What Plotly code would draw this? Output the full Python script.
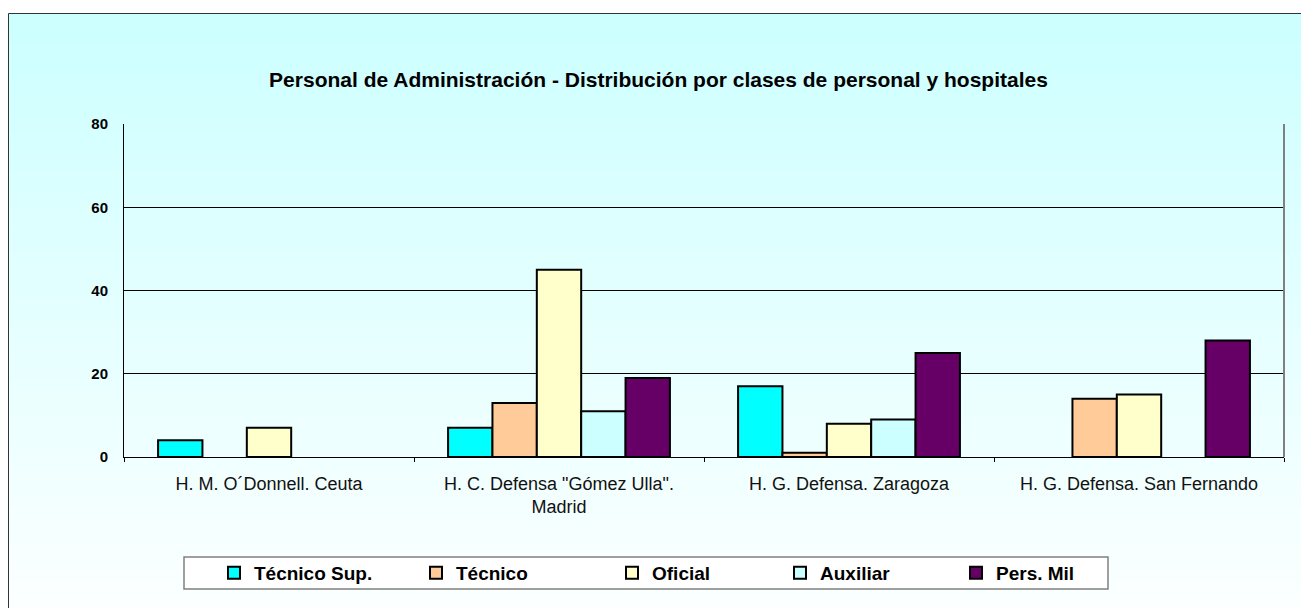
import plotly.graph_objects as go

hospitales = [
    "H. M. O´Donnell. Ceuta",
    "H. C. Defensa \"Gómez Ulla\".<br>Madrid",
    "H. G. Defensa. Zaragoza",
    "H. G. Defensa. San Fernando",
]
series_names = ["Técnico Sup.", "Técnico", "Oficial", "Auxiliar", "Pers. Mil"]
tecnico_sup = [4, 7, 17, 0]
tecnico = [0, 13, 1, 14]
oficial = [7, 45, 8, 15]
auxiliar = [0, 11, 9, 0]
pers_mil = [0, 19, 25, 28]
colors = ["#00FFFF", "#FFCC99", "#FFFFCC", "#CCFFFF", "#660066"]
y_ticks = [0, 20, 40, 60, 80]

FONT = "Arial, 'Liberation Sans', sans-serif"
OFF = 8  # browser body margin
W, H = 1309 - OFF, 608 - OFF
L, R, T, B = 124 - OFF, 1284 - OFF, 124 - OFF, 457 - OFF
pw, ph = R - L, B - T

def px(x):  # page x -> paper
    return (x - OFF - L) / pw

def py(y):  # page y -> paper
    return (B - (y - OFF)) / ph

fig = go.Figure()
legend_centers = [239, 441, 637, 805, 981]
for i, (name, vals, col) in enumerate(zip(series_names, [tecnico_sup, tecnico, oficial, auxiliar, pers_mil], colors)):
    fig.add_trace(go.Bar(
        name=name, x=hospitales, y=[v if v else None for v in vals],
        marker=dict(color=col, line=dict(color="black", width=2)),
        legend="legend" if i == 0 else f"legend{i + 1}",
    ))

shapes = []
n = 80
top, bot = 13, 612
for i in range(n):
    y0 = top + (bot - top) * i / n
    y1 = top + (bot - top) * (i + 1) / n + 0.5
    t = (i + 0.5) / n
    r = int(round(204 + (252 - 204) * t))
    shapes.append(dict(type="rect", xref="paper", yref="paper",
                       x0=px(8), x1=px(1315), y0=py(y1), y1=py(y0),
                       fillcolor=f"rgb({r},255,255)", line=dict(width=0), layer="below"))
shapes.append(dict(type="rect", xref="paper", yref="paper",
                   x0=px(8.5), x1=px(1320), y0=py(620), y1=py(13.5),
                   fillcolor="rgba(0,0,0,0)", line=dict(color="#333333", width=1), layer="below"))
shapes.append(dict(type="line", xref="paper", yref="paper", x0=1, x1=1, y0=0, y1=1,
                   line=dict(color="#808080", width=2), layer="above"))
shapes.append(dict(type="rect", xref="paper", yref="paper",
                   x0=px(184), x1=px(1108), y0=py(589), y1=py(557),
                   fillcolor="white", line=dict(color="#808080", width=1.5), layer="below"))

layout = dict(
    width=W, height=H,
    margin=dict(l=L, r=W - R, t=T, b=H - B),
    paper_bgcolor="white", plot_bgcolor="rgba(0,0,0,0)",
    barmode="group", bargap=0.235, bargroupgap=0,
    title=dict(text="<b>Personal de Administración - Distribución por clases de personal y hospitales</b>",
               x=0.5, xanchor="center", y=1 - (80 - OFF) / H, yanchor="middle",
               font=dict(family=FONT, size=21, color="black")),
    font=dict(family=FONT, color="black"),
    shapes=shapes,
    showlegend=True,
)
for i, c in enumerate(legend_centers):
    key = "legend" if i == 0 else f"legend{i + 1}"
    layout[key] = dict(orientation="h", x=px(c - 25), xanchor="left", y=py(573), yanchor="middle",
                       bgcolor="rgba(0,0,0,0)",
                       font=dict(family=FONT, size=19, color="black", weight="bold"))
fig.update_layout(**layout)
fig.update_xaxes(showline=True, linecolor="black", linewidth=1, ticks="outside", ticklen=4,
                 tickcolor="black", tickson="boundaries", showgrid=False, ticklabelstandoff=10,
                 tickfont=dict(family=FONT, size=18, color="#111111"))
fig.update_yaxes(range=[0, 80], tickvals=y_ticks, showline=True, linecolor="black", linewidth=1,
                 showgrid=True, gridcolor="black", gridwidth=1, zeroline=False,
                 tickfont=dict(family=FONT, size=15, color="black", weight="bold"),
                 ticks="", ticklabelstandoff=12)

fig.write_html("out.html")
